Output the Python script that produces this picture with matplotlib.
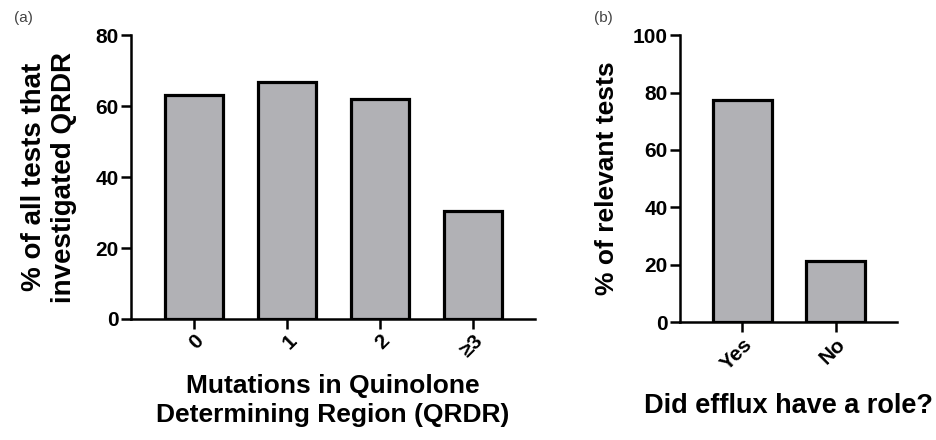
import numpy as np
import matplotlib.pyplot as plt

plt.rcParams['font.family'] = ['Liberation Sans', 'DejaVu Sans']

# Data
qrdr_labels = ['0', '1', '2', '≥3']
qrdr_values = [63.2, 66.8, 62.1, 30.5]

efflux_labels = ['Yes', 'No']
efflux_values = [77.3, 21.4]

bar_color = '#b1b1b5'
edge = 2.3

fig = plt.figure(figsize=(9.36, 4.4), dpi=100)
ax1 = fig.add_axes([0.140, 0.275, 0.4316, 0.645])
ax2 = fig.add_axes([0.7265, 0.268, 0.2318, 0.652])


def style(ax, ymax, step):
    for s in ['top', 'right']:
        ax.spines[s].set_visible(False)
    for s in ['left', 'bottom']:
        ax.spines[s].set_linewidth(1.8)
    ax.spines['left'].set_bounds(0, ymax)
    ax.set_ylim(0, ymax)
    ax.set_yticks(np.arange(0, ymax + 1, step))
    ax.tick_params(axis='both', length=7, width=1.8, labelsize=15, pad=2)
    for lab in ax.get_yticklabels() + ax.get_xticklabels():
        lab.set_fontweight('bold')


# Panel (a)
x1 = np.arange(len(qrdr_labels))
ax1.bar(x1, qrdr_values, width=0.63, color=bar_color, edgecolor='black', linewidth=edge)
ax1.set_xlim(-0.68, len(qrdr_labels) - 0.33)
ax1.set_xticks(x1)
ax1.set_xticklabels(qrdr_labels, rotation=45, ha='right', rotation_mode='anchor')
style(ax1, 80, 20)
ax1.set_ylabel('% of all tests that\ninvestigated QRDR', fontsize=20, fontweight='bold',
               labelpad=13, linespacing=1.2)
ax1.set_xlabel('Mutations in Quinolone\nDetermining Region (QRDR)', fontsize=19,
               fontweight='bold', labelpad=9, linespacing=1.3)

# Panel (b)
x2 = np.arange(len(efflux_labels))
ax2.bar(x2, efflux_values, width=0.63, color=bar_color, edgecolor='black', linewidth=edge)
ax2.set_xlim(-0.67, len(efflux_labels) - 0.34)
ax2.set_xticks(x2)
ax2.set_xticklabels(efflux_labels, rotation=45, ha='right', rotation_mode='anchor')
style(ax2, 100, 20)
ax2.set_ylabel('% of relevant tests', fontsize=19, fontweight='bold', labelpad=10)
ax2.set_xlabel('Did efflux have a role?', fontsize=19.5, fontweight='bold', labelpad=14)

fig.text(0.015, 0.95, '(a)', fontsize=11, color='#444444')
fig.text(0.635, 0.95, '(b)', fontsize=11, color='#444444')

fig.savefig('out.png', dpi=100)
